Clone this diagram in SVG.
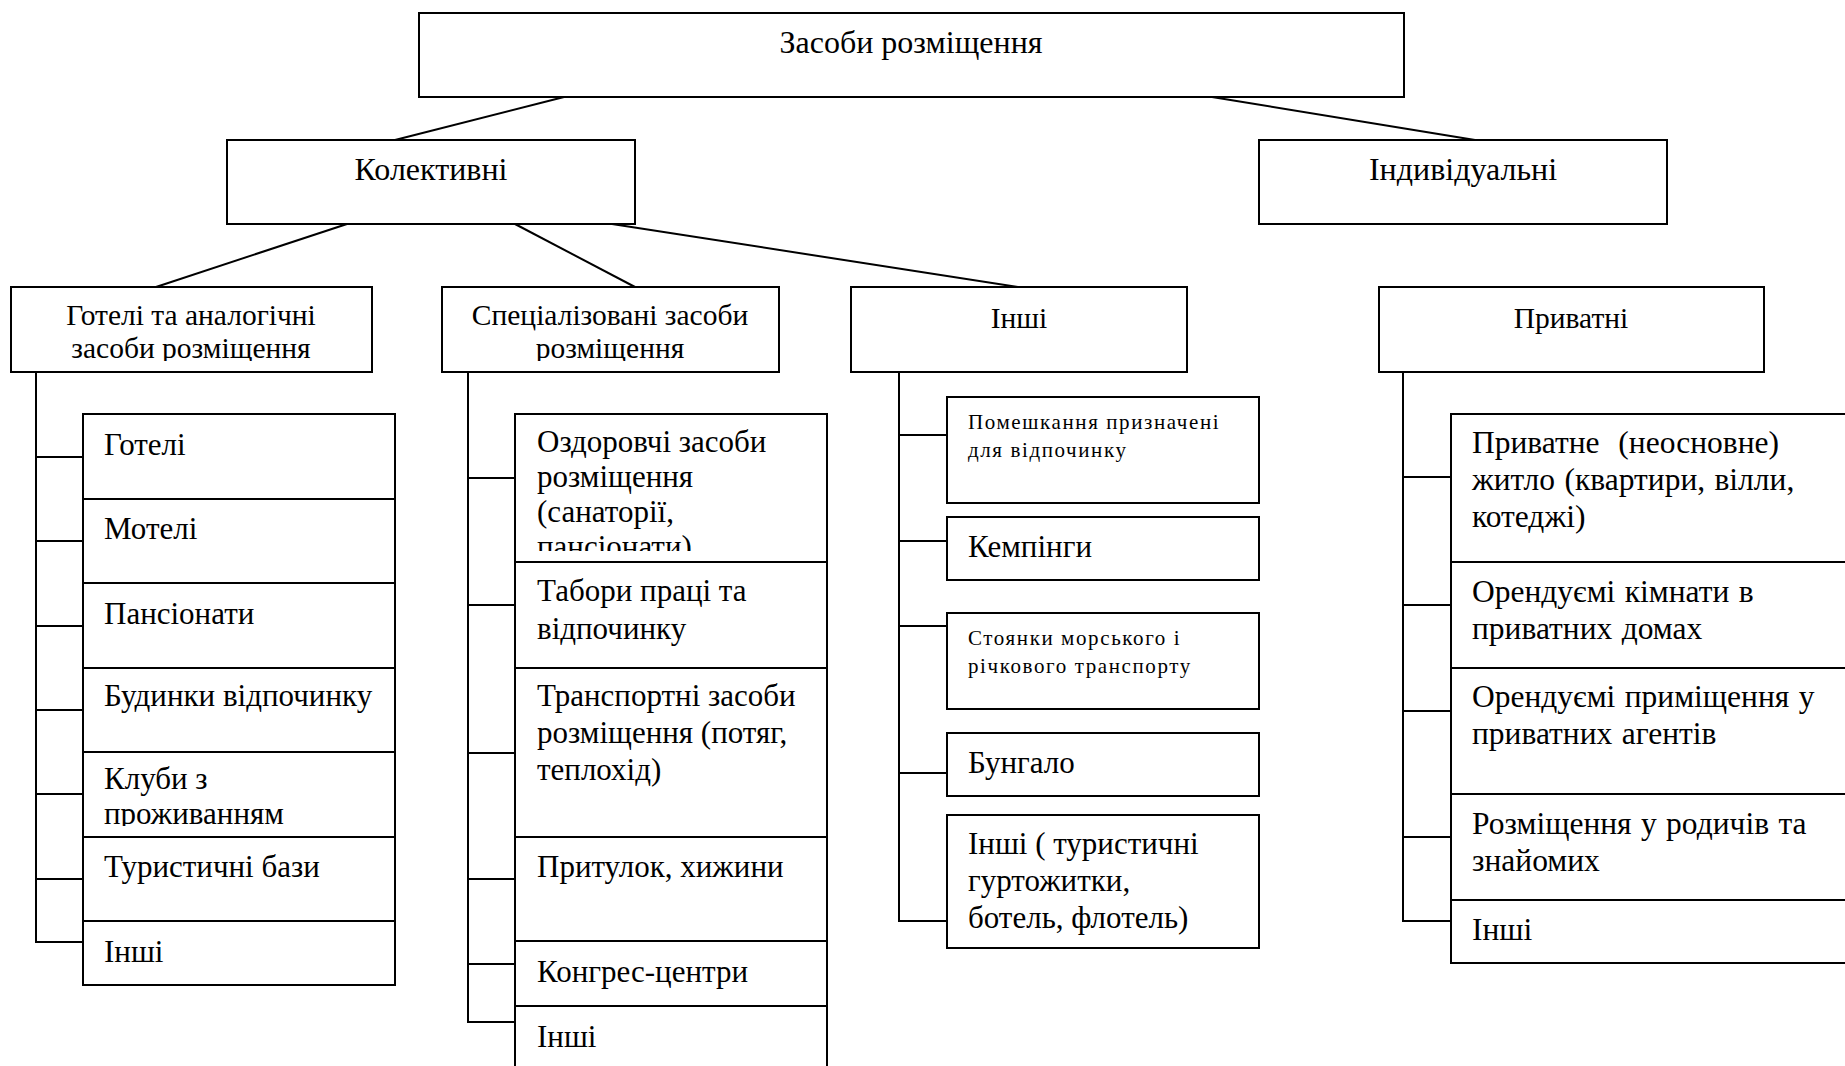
<svg xmlns="http://www.w3.org/2000/svg" width="1845" height="1066" viewBox="0 0 1845 1066">
<style>
  .box{fill:#fff;stroke:#000;stroke-width:2}
  .ln{stroke:#000;stroke-width:2;fill:none}
  text{font-family:"Liberation Serif","Times New Roman",serif;fill:#000}
  .h{font-size:32px;text-anchor:middle}
  .g{font-size:29.5px;text-anchor:middle}
  .t{font-size:31px}
  .w{font-size:31.5px;word-spacing:1.5px}
  .s{font-size:21px;letter-spacing:1.6px}
</style>
<defs>
  <clipPath id="cg"><rect x="11" y="288" width="360" height="73"/></clipPath>
  <clipPath id="cs"><rect x="443" y="288" width="335" height="73"/></clipPath>
  <clipPath id="ck"><rect x="83" y="753" width="312" height="73"/></clipPath>
  <clipPath id="co"><rect x="516" y="415" width="311" height="136"/></clipPath>
</defs>
<rect width="1845" height="1066" fill="#fff"/>

<g id="connectors">
  <line class="ln" x1="564" y1="97" x2="395" y2="140"/>
  <line class="ln" x1="1212" y1="97" x2="1475" y2="140"/>
  <line class="ln" x1="347" y1="224" x2="156" y2="287"/>
  <line class="ln" x1="515" y1="224" x2="635" y2="287"/>
  <line class="ln" x1="612" y1="224" x2="1018" y2="287"/>
  <polyline class="ln" points="36,372 36,942 83,942"/>
  <path class="ln" d="M36 457H83M36 541H83M36 626H83M36 710H83M36 794H83M36 879H83"/>
  <polyline class="ln" points="468,372 468,1022 516,1022"/>
  <path class="ln" d="M468 478H516M468 605H516M468 753H516M468 879H516M468 964H516"/>
  <polyline class="ln" points="899,372 899,921 947,921"/>
  <path class="ln" d="M899 435H947M899 541H947M899 626H947M899 773H947"/>
  <polyline class="ln" points="1403,372 1403,921 1451,921"/>
  <path class="ln" d="M1403 477H1451M1403 605H1451M1403 711H1451M1403 837H1451"/>
</g>

<g id="root"><rect class="box" x="419" y="13" width="985" height="84"/><text class="h" x="911" y="53">Засоби розміщення</text></g>
<g id="collective"><rect class="box" x="227" y="140" width="408" height="84"/><text class="h" x="431" y="180">Колективні</text></g>
<g id="individual"><rect class="box" x="1259" y="140" width="408" height="84"/><text class="h" x="1463" y="180">Індивідуальні</text></g>

<g id="hotels-group"><rect class="box" x="11" y="287" width="361" height="85"/>
  <g clip-path="url(#cg)"><text class="g" x="191" y="325">Готелі та аналогічні</text><text class="g" x="191" y="358">засоби розміщення</text></g></g>
<g id="special-group"><rect class="box" x="442" y="287" width="337" height="85"/>
  <g clip-path="url(#cs)"><text class="g" x="610" y="325">Спеціалізовані засоби</text><text class="g" x="610" y="358">розміщення</text></g></g>
<g id="other-group"><rect class="box" x="851" y="287" width="336" height="85"/><text class="g" x="1019" y="328">Інші</text></g>
<g id="private-group"><rect class="box" x="1379" y="287" width="385" height="85"/><text class="g" x="1571" y="328">Приватні</text></g>

<g id="c1-hotels"><rect class="box" x="83" y="414" width="312" height="85"/><text class="t" x="104" y="455">Готелі</text></g>
<g id="c1-motels"><rect class="box" x="83" y="499" width="312" height="84"/><text class="t" x="104" y="539">Мотелі</text></g>
<g id="c1-pensions"><rect class="box" x="83" y="583" width="312" height="85"/><text class="t" x="104" y="624">Пансіонати</text></g>
<g id="c1-rest"><rect class="box" x="83" y="668" width="312" height="84"/><text class="t" x="104" y="706">Будинки відпочинку</text></g>
<g id="c1-clubs"><rect class="box" x="83" y="752" width="312" height="85"/>
  <g clip-path="url(#ck)"><text class="t" x="104" y="789">Клуби з</text><text class="t" x="104" y="824">проживанням</text></g></g>
<g id="c1-bases"><rect class="box" x="83" y="837" width="312" height="84"/><text class="t" x="104" y="877">Туристичні бази</text></g>
<g id="c1-other"><rect class="box" x="83" y="921" width="312" height="64"/><text class="t" x="104" y="962">Інші</text></g>

<g id="c2-health"><rect class="box" x="515" y="414" width="312" height="148"/>
  <g clip-path="url(#co)"><text class="t" x="537" y="452">Оздоровчі засоби</text><text class="t" x="537" y="487">розміщення</text><text class="t" x="537" y="522">(санаторії,</text><text class="t" x="537" y="557">пансіонати)</text></g></g>
<g id="c2-camps"><rect class="box" x="515" y="562" width="312" height="106"/><text class="t" x="537" y="601">Табори праці та</text><text class="t" x="537" y="639">відпочинку</text></g>
<g id="c2-transport"><rect class="box" x="515" y="668" width="312" height="169"/><text class="t" x="537" y="706">Транспортні засоби</text><text class="t" x="537" y="743">розміщення (потяг,</text><text class="t" x="537" y="780">теплохід)</text></g>
<g id="c2-shelter"><rect class="box" x="515" y="837" width="312" height="104"/><text class="t" x="537" y="877">Притулок, хижини</text></g>
<g id="c2-congress"><rect class="box" x="515" y="941" width="312" height="65"/><text class="t" x="537" y="982">Конгрес-центри</text></g>
<g id="c2-other"><rect class="box" x="515" y="1006" width="312" height="80"/><text class="t" x="537" y="1047">Інші</text></g>

<g id="c3-rooms"><rect class="box" x="947" y="397" width="312" height="106"/><text class="s" x="968" y="429">Помешкання призначені</text><text class="s" x="968" y="457">для відпочинку</text></g>
<g id="c3-camping"><rect class="box" x="947" y="517" width="312" height="63"/><text class="t" x="968" y="557">Кемпінги</text></g>
<g id="c3-moorings"><rect class="box" x="947" y="613" width="312" height="96"/><text class="s" x="968" y="645">Стоянки морського і</text><text class="s" x="968" y="673">річкового транспорту</text></g>
<g id="c3-bungalow"><rect class="box" x="947" y="733" width="312" height="63"/><text class="t" x="968" y="773">Бунгало</text></g>
<g id="c3-other"><rect class="box" x="947" y="815" width="312" height="133"/><text class="t" x="968" y="854">Інші ( туристичні</text><text class="t" x="968" y="891">гуртожитки,</text><text class="t" x="968" y="928">ботель, флотель)</text></g>

<g id="c4-housing"><rect class="box" x="1451" y="414" width="410" height="148"/><text class="w" x="1472" y="453">Приватне&#160; (неосновне)</text><text class="w" x="1472" y="490">житло (квартири, вілли,</text><text class="w" x="1472" y="527">котеджі)</text></g>
<g id="c4-rooms"><rect class="box" x="1451" y="562" width="410" height="106"/><text class="w" x="1472" y="602">Орендуємі кімнати в</text><text class="w" x="1472" y="639">приватних домах</text></g>
<g id="c4-agents"><rect class="box" x="1451" y="668" width="410" height="126"/><text class="w" x="1472" y="707">Орендуємі приміщення у</text><text class="w" x="1472" y="744">приватних агентів</text></g>
<g id="c4-relatives"><rect class="box" x="1451" y="794" width="410" height="106"/><text class="w" x="1472" y="834">Розміщення у родичів та</text><text class="w" x="1472" y="871">знайомих</text></g>
<g id="c4-other"><rect class="box" x="1451" y="900" width="410" height="63"/><text class="w" x="1472" y="940">Інші</text></g>
</svg>
